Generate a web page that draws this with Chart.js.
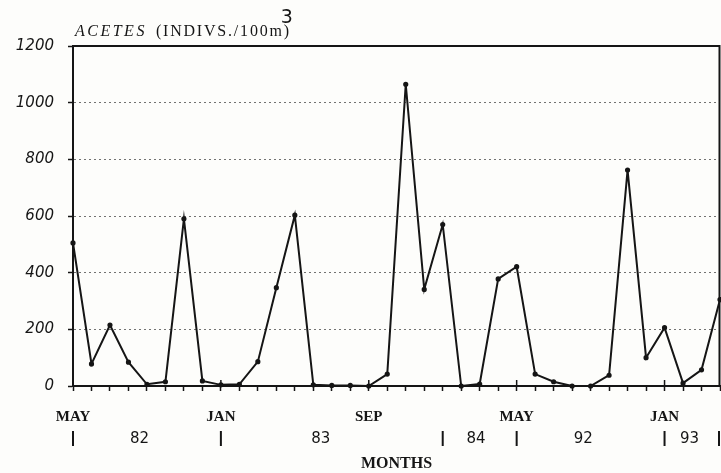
<!DOCTYPE html>
<html>
<head>
<meta charset="utf-8">
<script src="https://cdn.jsdelivr.net/npm/chart.js@4/dist/chart.umd.min.js"></script>
<style>
  html, body { margin: 0; padding: 0; background: #fdfdfb; }
  #wrap { width: 721px; height: 473px; }
</style>
</head>
<body>
<div id="wrap"><canvas id="c" width="721" height="473"></canvas></div>
<script>
// ---- data ----
const months = [
  'May 82','Jun 82','Jul 82','Aug 82','Sep 82','Oct 82','Nov 82','Dec 82',
  'Jan 83','Feb 83','Mar 83','Apr 83','May 83','Jun 83','Jul 83','Aug 83',
  'Sep 83','Oct 83','Nov 83','Dec 83',
  'Jan 84','Feb 84','Mar 84','Apr 84',
  'May 92','Jun 92','Jul 92','Aug 92','Sep 92','Oct 92','Nov 92','Dec 92',
  'Jan 93','Feb 93','Mar 93','Apr 93'
];
const acetes = [
  505, 78, 215, 84, 6, 15, 590, 18,
  4, 6, 86, 347, 603, 4, 2, 2,
  0, 42, 1065, 341,
  570, 0, 7, 378,
  421, 42, 15, 0, 0, 38, 762, 100,
  206, 10, 57, 305
];
const tickCategories = ['May 82', 'Jan 83', 'Sep 83', 'May 92', 'Jan 93'];
const yearLabels = ['82', '83', '84', '92', '93'];
const yearBreaks = ['May 82', 'Jan 83', 'Jan 84', 'May 92', 'Jan 93', 'Apr 93'];
const yTicks = [0, 200, 400, 600, 800, 1000, 1200];
const titleItalic = 'ACETES';
const titleRest = '(INDIVS./100m)';
const titleSup = '3';
const xTitle = 'MONTHS';

const INK = '#151515';

const decor = {
  id: 'decor',
  afterDraw(chart) {
    const { ctx, chartArea: a, scales: { x } } = chart;
    ctx.save();
    // top and right frame
    ctx.strokeStyle = INK;
    ctx.lineWidth = 2;
    ctx.beginPath();
    ctx.moveTo(a.left, a.top);
    ctx.lineTo(a.right - 0.5, a.top);
    ctx.lineTo(a.right - 0.5, a.bottom);
    ctx.stroke();
    // upward major ticks
    ctx.lineWidth = 1.5;
    tickCategories.forEach(c => {
      const px = x.getPixelForValue(months.indexOf(c));
      ctx.beginPath();
      ctx.moveTo(px, a.bottom);
      ctx.lineTo(px, a.bottom - 6);
      ctx.stroke();
    });
    // year separators and labels
    const rowY = a.bottom + 53;
    ctx.lineWidth = 2;
    const seps = yearBreaks.map(c => x.getPixelForValue(months.indexOf(c)));
    seps.forEach(px => {
      const sx = Math.min(px, chart.width - 2);
      ctx.beginPath();
      ctx.moveTo(sx, rowY - 8);
      ctx.lineTo(sx, rowY + 7);
      ctx.stroke();
    });
    ctx.fillStyle = INK;
    ctx.font = '15px "DejaVu Sans"';
    ctx.textAlign = 'center';
    ctx.textBaseline = 'middle';
    yearLabels.forEach((t, i) => {
      const cx = seps[i] + 0.45 * (seps[i + 1] - seps[i]);
      ctx.fillText(t, cx, rowY);
    });
    // title
    ctx.textAlign = 'left';
    ctx.textBaseline = 'alphabetic';
    const hasLS = 'letterSpacing' in ctx;
    let tx = a.left + 2;
    const ty = a.top - 10;
    ctx.font = 'italic 16px "Liberation Serif"';
    if (hasLS) ctx.letterSpacing = '2.5px';
    ctx.fillText(titleItalic, tx, ty);
    tx += ctx.measureText(titleItalic).width + 9;
    ctx.font = '16px "Liberation Serif"';
    if (hasLS) ctx.letterSpacing = '1.8px';
    ctx.fillText(titleRest, tx, ty);
    const restW = ctx.measureText(titleRest).width;
    if (hasLS) ctx.letterSpacing = '0px';
    ctx.font = '19px "DejaVu Sans"';
    ctx.fillText(titleSup, tx + restW - 10, ty - 13);
    ctx.restore();
  }
};

new Chart(document.getElementById('c'), {
  type: 'line',
  data: {
    labels: months,
    datasets: [{
      data: acetes,
      borderColor: INK,
      backgroundColor: INK,
      borderWidth: 2,
      pointRadius: 1.6,
      pointHoverRadius: 1.6,
      tension: 0,
      clip: false
    }]
  },
  options: {
    responsive: false,
    animation: false,
    devicePixelRatio: 1,
    layout: { autoPadding: false, padding: { left: 0, right: 1, top: 46, bottom: 0 } },
    plugins: { legend: { display: false }, tooltip: { enabled: false }, title: { display: false } },
    scales: {
      x: {
        type: 'category',
        offset: false,
        afterFit(s) { s.height = 87; s.paddingRight = 0; s.paddingLeft = 0; },
        grid: {
          display: true,
          drawOnChartArea: false,
          drawTicks: true,
          tickLength: 5,
          tickColor: INK,
          tickWidth: 1.5
        },
        border: { display: true, color: INK, width: 2 },
        ticks: {
          autoSkip: false,
          maxRotation: 0,
          minRotation: 0,
          padding: 17,
          color: INK,
          font: { family: '"Liberation Serif"', size: 15, weight: 'bold' },
          callback: (v, i) => tickCategories.includes(months[i]) ? months[i].split(' ')[0].toUpperCase() : ''
        },
        title: {
          display: true,
          text: xTitle,
          color: INK,
          padding: { top: 0, bottom: 0 },
          font: { family: '"Liberation Serif"', size: 16, weight: 'bold' }
        }
      },
      y: {
        min: 0,
        max: 1200,
        afterFit(s) { s.width = 73; },
        afterBuildTicks(s) { s.ticks = yTicks.map(v => ({ value: v })); },
        grid: {
          display: true,
          drawOnChartArea: true,
          drawTicks: true,
          tickLength: 5,
          tickColor: INK,
          tickWidth: 1.5,
          lineWidth: 1,
          color: c => (c.tick && (c.tick.value === 0 || c.tick.value === 1200)) ? 'rgba(0,0,0,0)' : 'rgba(0,0,0,0.55)'
        },
        border: { display: true, color: INK, width: 2, dash: [2, 3] },
        ticks: {
          padding: 14,
          color: INK,
          font: { family: '"DejaVu Sans"', size: 15, style: 'italic' },
          callback: v => String(v)
        }
      }
    }
  },
  plugins: [decor]
});
</script>
</body>
</html>
